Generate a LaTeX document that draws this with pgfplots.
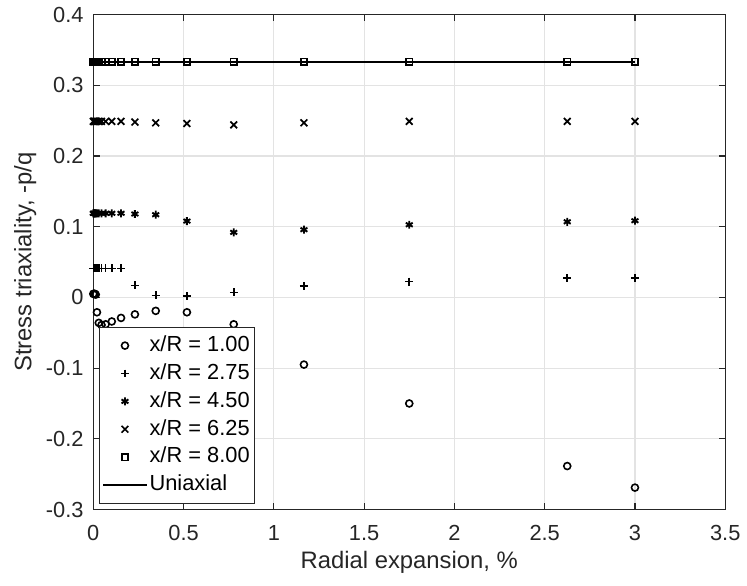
\documentclass[border=0pt]{standalone}
\usepackage{pgfplots}
\pgfplotsset{compat=1.18}
\usepackage{fontspec}
\setmainfont{Liberation Sans}
\definecolor{axc}{HTML}{262626}
\definecolor{gridc}{HTML}{E3E3E3}
\begin{document}
\begin{tikzpicture}
\begin{axis}[
  scale only axis,
  width=317.3bp, height=248.5bp,
  xmin=0, xmax=3.5, ymin=-0.3, ymax=0.4,
  xtick={0,0.5,1,1.5,2,2.5,3,3.5},
  ytick={-0.3,-0.2,-0.1,0,0.1,0.2,0.3,0.4},
  yticklabels={-0.3,-0.2,-0.1,0,0.1,0.2,0.3,0.4},
  xticklabels={0,0.5,1,1.5,2,2.5,3,3.5},
  tick align=inside,
  major tick length=3.3bp,
  axis line style={axc, line width=0.55bp},
  every tick/.style={axc, line width=0.55bp},
  grid=major,
  major grid style={gridc, line width=0.55bp},
  tick label style={font=\fontsize{11}{13}\selectfont, text=axc},
  /pgf/number format/assume math mode=true,
  xticklabel style={yshift=-4.3bp},
  yticklabel style={xshift=-1.4bp},
  label style={font=\fontsize{12}{14}\selectfont, text=axc},
  xlabel={Radial expansion, \%},
  ylabel={Stress triaxiality, -p/q},
  xlabel style={yshift=1.5bp},
  ylabel style={yshift=-2bp},
  legend style={at={(0,0)}, anchor=south west, xshift=2.8bp, yshift=2.85bp,
    draw=axc, line width=0.5bp, font=\fontsize{11}{13}\selectfont,
    inner xsep=1.5bp, inner ysep=2.2bp, row sep=0bp,
    nodes={inner xsep=1bp, inner ysep=1.9bp, text height=8bp, text depth=2.2bp}},
  legend cell align=left,
  legend image code/.code={\draw[mark repeat=2,mark phase=2,#1] plot coordinates {(0bp,0bp)(10.85bp,0bp)(21.7bp,0bp)};},
]
% x/R = 1.00
\addplot[only marks, mark=o, mark size=1.75bp, line width=0.8bp, black] coordinates {
(0,0.005)(0.004,0.005)(0.006,0.005)(0.009,0.005)(0.0135,0.004)
(0.0202,-0.021)(0.0303,-0.036)(0.0455,-0.039)(0.0683,-0.038)(0.1024,-0.034)
(0.1536,-0.029)(0.2305,-0.024)(0.3457,-0.019)(0.5185,-0.021)(0.7778,-0.038)
(1.1667,-0.095)(1.75,-0.150)(2.625,-0.2385)(3.0,-0.269)};
\addlegendentry{x/R = 1.00}
% x/R = 2.75
\addplot[only marks, mark=+, mark size=2bp, line width=0.8bp, black] coordinates {
(0,0.041)(0.004,0.041)(0.006,0.041)(0.009,0.041)(0.0135,0.041)
(0.0202,0.041)(0.0303,0.041)(0.0455,0.041)(0.0683,0.041)(0.1024,0.041)
(0.1536,0.041)(0.2305,0.017)(0.3457,0.003)(0.5185,0.002)(0.7778,0.007)
(1.1667,0.016)(1.75,0.0225)(2.625,0.0273)(3.0,0.0277)};
\addlegendentry{x/R = 2.75}
% x/R = 4.50
\addplot[only marks, mark=asterisk, mark size=2bp, line width=0.95bp, black] coordinates {
(0,0.119)(0.004,0.119)(0.006,0.119)(0.009,0.119)(0.0135,0.119)
(0.0202,0.119)(0.0303,0.119)(0.0455,0.119)(0.0683,0.119)(0.1024,0.119)
(0.1536,0.119)(0.2305,0.118)(0.3457,0.117)(0.5185,0.108)(0.7778,0.092)
(1.1667,0.0958)(1.75,0.1028)(2.625,0.107)(3.0,0.1085)};
\addlegendentry{x/R = 4.50}
% x/R = 6.25
\addplot[only marks, mark=x, mark size=2.4bp, line width=0.85bp, black] coordinates {
(0,0.249)(0.004,0.249)(0.006,0.249)(0.009,0.249)(0.0135,0.249)
(0.0202,0.249)(0.0303,0.249)(0.0455,0.249)(0.0683,0.249)(0.1024,0.249)
(0.1536,0.249)(0.2305,0.248)(0.3457,0.247)(0.5185,0.246)(0.7778,0.244)
(1.1667,0.247)(1.75,0.249)(2.625,0.249)(3.0,0.249)};
\addlegendentry{x/R = 6.25}
% x/R = 8.00
\addplot[only marks, mark=square, mark size=1.6bp, line width=0.8bp, black] coordinates {
(0,0.3335)(0.004,0.3335)(0.006,0.3335)(0.009,0.3335)(0.0135,0.3335)
(0.0202,0.3335)(0.0303,0.3335)(0.0455,0.3335)(0.0683,0.3335)(0.1024,0.3335)
(0.1536,0.3335)(0.2305,0.3335)(0.3457,0.3335)(0.5185,0.3335)(0.7778,0.3335)
(1.1667,0.3335)(1.75,0.3335)(2.625,0.3335)(3.0,0.3335)};
\addlegendentry{x/R = 8.00}
% Uniaxial
\addplot[no marks, black, line width=1bp] coordinates {(0,0.33333)(3.0,0.33333)};
\addlegendentry{Uniaxial}
\end{axis}
\path ([shift={(-46.85bp,-38.15bp)}]current axis.south west) rectangle ([shift={(9.35bp,7.35bp)}]current axis.north east);
\end{tikzpicture}
\end{document}
